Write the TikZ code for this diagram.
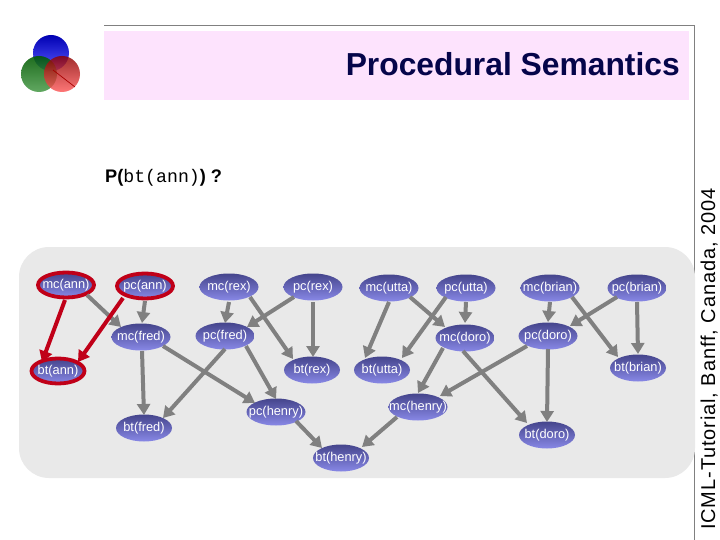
\documentclass[tikz,border=0pt]{standalone}
\usepackage{fontspec}
\setmainfont{Liberation Sans}
\setmonofont{Liberation Mono}
\usetikzlibrary{shapes.geometric,arrows.meta}
\definecolor{panelgrey}{HTML}{E9E9E9}
\definecolor{titlepink}{HTML}{FDE3FD}
\definecolor{titlenavy}{HTML}{05054A}
\definecolor{edgegrey}{HTML}{808080}
\definecolor{edgered}{HTML}{C00018}
\definecolor{nodetop}{HTML}{45458C}
\definecolor{nodebot}{HTML}{8888E6}
\newcommand{\lab}[1]{\makebox[0pt]{#1}}
\tikzset{
  x=1pt,y=-1pt,
  term/.style={ellipse,inner sep=0pt,minimum width=59pt,minimum height=27pt,top color=nodetop,bottom color=nodebot,text=white,font=\fontsize{12.8}{13}\selectfont},
  termb/.style={term,minimum width=56pt},
  hot/.style={term,draw=edgered,line width=3.8pt,minimum width=56pt,minimum height=25pt},
  hotb/.style={hot,minimum width=53pt},
  link/.style={draw=edgegrey,line width=4pt,-{Triangle[length=11pt,width=13pt]}},
  hotlink/.style={link,draw=edgered},
}
\begin{document}
\begin{tikzpicture}
\useasboundingbox (0,0) rectangle (720,540);
\fill[white] (0,0) rectangle (720,540);
\draw[gray,line width=.9pt] (104,25.5) -- (694.5,25.5) -- (694.5,540);
\fill[titlepink] (104,31) rectangle (689,100);
\node[anchor=base east,inner sep=0pt,text=titlenavy,font=\fontsize{31.8}{32}\selectfont\bfseries] (title) at (680,76) {Procedural Semantics};
\node[anchor=base west,inner sep=0pt,font=\fontsize{18.2}{18}\selectfont\bfseries] (query) at (105,183) {P(\mdseries\ttfamily bt(ann)\bfseries\rmfamily) ?};
\node[anchor=base west,inner sep=0pt,rotate=90,font=\fontsize{20}{20}\selectfont\addfontfeature{LetterSpace=4.4}] (credit) at (715,530) {ICML-Tutorial, Banff, Canada, 2004};
% logo
\shade[top color=blue!70!black,bottom color=blue!65!white] (51,53) circle (18pt);
\shade[top color=green!35!black,bottom color=green!45!black!70!white,opacity=.88] (39,74) circle (18pt);
\shade[top color=red!55!black,bottom color=red!65!white,opacity=.82] (62,74) circle (18pt);
\draw[red!65!black,line width=.7pt] (53,70) -- (75,87);
% panel
\fill[panelgrey,rounded corners=30pt] (19,247) rectangle (695,478);
% nodes
\node[hot] (mcann) at (66,285) {\lab{mc(ann)}};
\node[hot] (pcann) at (145,286) {\lab{pc(ann)}};
\node[term] (mcrex) at (229,287) {\lab{mc(rex)}};
\node[term] (pcrex) at (313,287) {\lab{pc(rex)}};
\node[term] (mcutta) at (389,288) {\lab{mc(utta)}};
\node[term] (pcutta) at (466,288) {\lab{pc(utta)}};
\node[term] (mcbrian) at (550,288) {\lab{mc(brian)}};
\node[term] (pcbrian) at (637,288) {\lab{pc(brian)}};
\node[term] (mcfred) at (141,337) {\lab{mc(fred)}};
\node[term] (pcfred) at (225,336) {\lab{pc(fred)}};
\node[term] (mcdoro) at (465,338) {\lab{mc(doro)}};
\node[term] (pcdoro) at (548,336) {\lab{pc(doro)}};
\node[hotb] (btann) at (58,371) {\lab{bt(ann)}};
\node[termb] (btrex) at (312,370) {\lab{bt(rex)}};
\node[termb] (btutta) at (382,370) {\lab{bt(utta)}};
\node[termb] (btbrian) at (638,368) {\lab{bt(brian)}};
\node[term] (mchenry) at (418,407) {\lab{mc(henry)}};
\node[term] (pchenry) at (276,412) {\lab{pc(henry)}};
\node[termb] (btfred) at (144,428) {\lab{bt(fred)}};
\node[termb] (btdoro) at (547,435) {\lab{bt(doro)}};
\node[termb] (bthenry) at (341,458) {\lab{bt(henry)}};
% edges
\foreach \a/\ax/\ay/\b/\bx/\by in {
  mcann/21/10/mcfred/-20/-10, pcann/0/15/mcfred/1/-14,
  mcrex/0/15/pcfred/0/-13, pcrex/-19/10/pcfred/22/-9,
  mcrex/21/10/btrex/-19/-11, pcrex/0/15/btrex/1/-13,
  mcfred/1/14/btfred/0/-13, pcfred/0/13/btfred/19/-10,
  mcfred/22/9/pchenry/-21/-9, pcfred/21/10/pchenry/0/-13,
  pchenry/20/9/bthenry/-19/-10, mchenry/-21/10/bthenry/21/-11,
  mcutta/0/14/btutta/-17/-12, pcutta/-20/9/btutta/20/-12,
  mcutta/21/9/mcdoro/-20/-11, pcutta/0/14/mcdoro/0/-15,
  mcdoro/-22/10/mchenry/0/-14, pcdoro/-21/10/mchenry/22/-11,
  mcdoro/-2/13/btdoro/-20/-12, pcdoro/0/13/btdoro/0/-13,
  mcbrian/0/14/pcdoro/0/-14, pcbrian/-20/9/pcdoro/22/-10,
  mcbrian/22/9/btbrian/-20/-11, pcbrian/0/14/btbrian/0/-14}
  \draw[link] ([shift={(\ax,\ay)}]\a.center) -- ([shift={(\bx,\by)}]\b.center);
\draw[hotlink] ([shift={(-1,15)}]mcann.center) -- ([shift={(-16,-9)}]btann.center);
\draw[hotlink] ([shift={(-22,12)}]pcann.center) -- ([shift={(20,-9)}]btann.center);
\end{tikzpicture}
\end{document}
